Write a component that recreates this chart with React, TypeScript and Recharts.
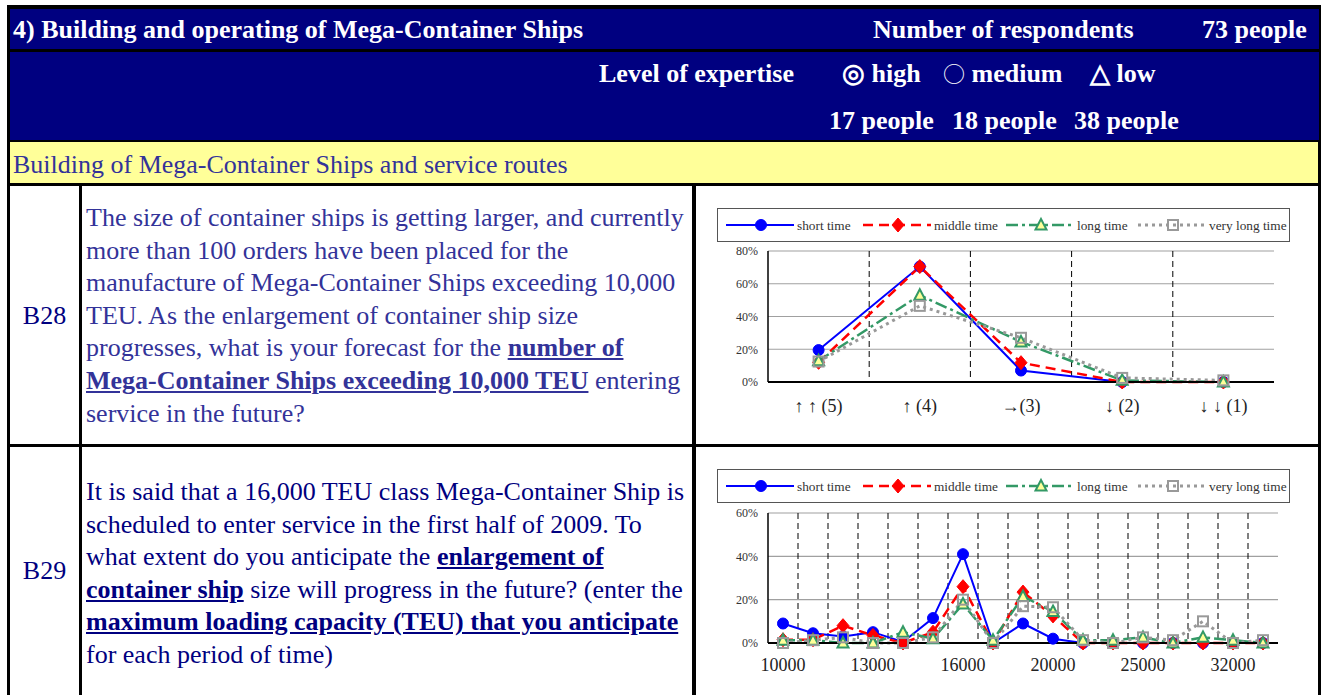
import { CartesianGrid, Line, LineChart, XAxis, YAxis } from 'recharts';

// B28: forecast for number of Mega-Container Ships (share of respondents)
const trendCategories = ['↑ ↑ (5)', '↑ (4)', '→(3)', '↓ (2)', '↓ ↓ (1)'];
const trendShort = [0.195, 0.705, 0.07, 0, 0];
const trendMiddle = [0.12, 0.705, 0.118, 0, 0];
const trendLong = [0.13, 0.53, 0.245, 0.01, 0];
const trendVeryLong = [0.125, 0.465, 0.27, 0.025, 0.01];
const trendTicks = [0, 0.2, 0.4, 0.6, 0.8];

// B29: anticipated maximum loading capacity (TEU)
const sizeCategories = [
  '10000', '11000', '12000', '13000', '14000', '15000', '16000', '17000', '18000',
  '20000', '22000', '23000', '25000', '28000', '30000', '32000', '35000',
];
const sizeShort = [0.09, 0.045, 0.03, 0.05, 0.005, 0.115, 0.41, 0, 0.09, 0.02, 0, 0, 0, 0, 0, 0, 0];
const sizeMiddle = [0.015, 0.015, 0.08, 0.035, 0, 0.05, 0.26, 0, 0.235, 0.125, 0, 0, 0, 0, 0, 0, 0];
const sizeLong = [0.013, 0.013, 0, 0, 0.05, 0.02, 0.18, 0.013, 0.215, 0.145, 0.013, 0.013, 0.026, 0, 0.026, 0.013, 0];
const sizeVeryLong = [0, 0.013, 0.026, 0, 0, 0.026, 0.2, 0, 0.17, 0.165, 0.013, 0, 0.026, 0.013, 0.1, 0, 0.013];
const sizeTicks = [0, 0.2, 0.4, 0.6];

const seriesStyles = [
  { key: 'short', name: 'short time', stroke: '#0000ff', dash: undefined, width: 2, marker: 'circle' },
  { key: 'middle', name: 'middle time', stroke: '#ff0000', dash: '10 6', width: 2.5, marker: 'diamond' },
  { key: 'long', name: 'long time', stroke: '#339966', dash: '12 4 3 4', width: 2.5, marker: 'triangle' },
  { key: 'veryLong', name: 'very long time', stroke: '#999999', dash: '3 4', width: 3, marker: 'square' },
];

const trendRows = trendCategories.map((c, i) => ({
  name: c,
  short: trendShort[i],
  middle: trendMiddle[i],
  long: trendLong[i],
  veryLong: trendVeryLong[i],
}));

const sizeRows = sizeCategories.map((c, i) => ({
  name: c,
  short: sizeShort[i],
  middle: sizeMiddle[i],
  long: sizeLong[i],
  veryLong: sizeVeryLong[i],
}));

const SERIF = '"Liberation Serif", "Times New Roman", serif';
const NAVY = '#000080';
const TEXT_BLUE = '#333399';

function Marker({ type, cx, cy }: { type: string; cx: number; cy: number }) {
  if (cx == null || cy == null) return null;
  if (type === 'circle') return <circle cx={cx} cy={cy} r={5.5} fill="#0000ff" stroke="#0000ff" />;
  if (type === 'diamond')
    return (
      <polygon
        points={`${cx},${cy - 7} ${cx + 6},${cy} ${cx},${cy + 7} ${cx - 6},${cy}`}
        fill="#ff0000"
        stroke="#ff0000"
      />
    );
  if (type === 'triangle')
    return (
      <polygon
        points={`${cx},${cy - 6} ${cx + 5.5},${cy + 4.5} ${cx - 5.5},${cy + 4.5}`}
        fill="#ffff99"
        stroke="#339966"
        strokeWidth={2}
      />
    );
  return <rect x={cx - 5} y={cy - 5} width={10} height={10} fill="none" stroke="#999999" strokeWidth={2} />;
}

function LegendBox({ top }: { top: number }) {
  const starts = [8, 145, 288, 420];
  return (
    <div
      style={{
        position: 'absolute',
        left: 717,
        top,
        width: 573,
        height: 34,
        border: '1px solid #555',
        boxSizing: 'border-box',
        background: '#fff',
      }}
    >
      <svg width={571} height={32}>
        {seriesStyles.map((s, i) => {
          const x = starts[i];
          return (
            <g key={s.key}>
              <line x1={x} x2={x + 68} y1={16} y2={16} stroke={s.stroke} strokeWidth={s.width} strokeDasharray={s.dash} />
              <Marker type={s.marker} cx={x + 35} cy={16} />
              <text x={x + 71} y={20.5} fontSize={13.3} fontFamily={SERIF} fill="#333">
                {s.name}
              </text>
            </g>
          );
        })}
      </svg>
    </div>
  );
}

type ChartProps = {
  rows: any[];
  left: number;
  top: number;
  width: number;
  height: number;
  margin: { top: number; right: number; bottom: number; left: number };
  yMax: number;
  yTicks: number[];
  interval: number;
  xTickMargin: number;
  xFont: number;
};

function SurveyChart({ rows, left, top, width, height, margin, yMax, yTicks, interval, xTickMargin, xFont }: ChartProps) {
  const n = rows.length;
  return (
    <div style={{ position: 'absolute', left, top }}>
      <LineChart width={width} height={height} data={rows} margin={margin}>
        <CartesianGrid vertical={false} stroke="#a0a0a0" strokeWidth={1.2} />
        <CartesianGrid
          horizontal={false}
          stroke="#000"
          strokeDasharray="6 4"
          verticalCoordinatesGenerator={({ offset }: any) =>
            Array.from({ length: n - 1 }, (_, i) => offset.left + ((i + 1) * offset.width) / n)
          }
        />
        <XAxis
          dataKey="name"
          scale="band"
          interval={interval}
          tickSize={0}
          tickMargin={xTickMargin}
          height={30}
          axisLine={{ stroke: '#000', strokeWidth: 2 }}
          tick={{ fontSize: xFont, fontFamily: SERIF, fill: '#222' }}
        />
        <XAxis xAxisId="top" dataKey="name" scale="band" orientation="top" height={0} tick={false} tickLine={false} axisLine={{ stroke: '#000', strokeWidth: 1.5 }} />
        <YAxis
          domain={[0, yMax]}
          ticks={yTicks}
          width={40}
          tickSize={0}
          tickMargin={10}
          tickFormatter={(v: number) => `${Math.round(v * 100)}%`}
          axisLine={{ stroke: '#000', strokeWidth: 1.5 }}
          tick={{ fontSize: 12, fontFamily: SERIF, fill: '#333' }}
        />
        <YAxis yAxisId="right" orientation="right" domain={[0, yMax]} width={0} tick={false} tickLine={false} axisLine={{ stroke: '#000', strokeWidth: 1.5 }} />
        {seriesStyles.map((s) => (
          <Line
            key={s.key}
            type="linear"
            dataKey={s.key}
            name={s.name}
            stroke={s.stroke}
            strokeWidth={s.width}
            strokeDasharray={s.dash}
            isAnimationActive={false}
            activeDot={false}
            dot={(p: any) => <Marker key={`${s.key}-${p.index}`} type={s.marker} cx={p.cx} cy={p.cy} />}
          />
        ))}
      </LineChart>
    </div>
  );
}

const cell = (left: number, top: number, width: number, height: number, bg: string): any => ({
  position: 'absolute',
  left,
  top,
  width,
  height,
  background: bg,
  boxSizing: 'border-box',
});

const bu = { fontWeight: 'bold', textDecoration: 'underline' } as const;
const cjk = { fontFamily: '"Noto Sans CJK JP", sans-serif', fontWeight: 'normal', lineHeight: 0 } as const;

export default function App() {
  const headText = { position: 'absolute', color: '#fff', fontWeight: 'bold', fontSize: 26, fontFamily: SERIF, whiteSpace: 'nowrap', lineHeight: '26px' } as any;
  const body = { position: 'absolute', fontFamily: SERIF, fontSize: 26, lineHeight: '32.6px', whiteSpace: 'nowrap' } as any;
  return (
    <div style={{ position: 'absolute', left: 0, top: 0, width: 1321, height: 695, overflow: 'hidden', background: '#fff', fontFamily: SERIF }}>
      {/* table frame */}
      <div style={cell(7, 5, 1314, 690, '#000')} />
      <div style={cell(10, 9, 1309, 40, NAVY)} />
      <div style={cell(10, 52, 1309, 88, NAVY)} />
      <div style={cell(10, 142, 1308, 41, '#ffff99')} />
      <div style={cell(10, 186, 69, 258, '#fff')} />
      <div style={cell(82, 186, 610, 258, '#fff')} />
      <div style={cell(696, 186, 622, 258, '#fff')} />
      <div style={cell(10, 447, 69, 248, '#fff')} />
      <div style={cell(82, 447, 610, 248, '#fff')} />
      <div style={cell(696, 447, 622, 248, '#fff')} />

      {/* header */}
      <div style={{ ...headText, left: 13, top: 17 }}>4) Building and operating of Mega-Container Ships</div>
      <div style={{ ...headText, left: 873, top: 17 }}>Number of respondents</div>
      <div style={{ ...headText, left: 1202, top: 17 }}>73 people</div>
      <div style={{ ...headText, left: 599, top: 61 }}>Level of expertise</div>
      <div style={{ ...headText, left: 842, top: 61 }}>◎ high</div>
      <div style={{ ...headText, left: 943, top: 61 }}>
        <span style={{ ...cjk, fontSize: 22 }}>○</span> medium
      </div>
      <div style={{ ...headText, left: 1090, top: 61 }}>△ low</div>
      <div style={{ ...headText, left: 829, top: 108 }}>17 people</div>
      <div style={{ ...headText, left: 952, top: 108 }}>18 people</div>
      <div style={{ ...headText, left: 1074, top: 108 }}>38 people</div>
      <div style={{ ...body, left: 13, top: 149, color: TEXT_BLUE }}>Building of Mega-Container Ships and service routes</div>

      {/* B28 */}
      <div style={{ ...body, left: 10, width: 69, top: 300, textAlign: 'center', color: NAVY }}>B28</div>
      <div style={{ ...body, left: 86, top: 202, color: TEXT_BLUE }}>
        The size of container ships is getting larger, and currently
        <br />
        more than 100 orders have been placed for the
        <br />
        manufacture of Mega-Container Ships exceeding 10,000
        <br />
        TEU. As the enlargement of container ship size
        <br />
        progresses, what is your forecast for the <span style={bu}>number of</span>
        <br />
        <span style={bu}>Mega-Container Ships exceeding 10,000 TEU</span> entering
        <br />
        service in the future?
      </div>
      <LegendBox top={208} />
      <SurveyChart
        rows={trendRows}
        left={700}
        top={240}
        width={590}
        height={190}
        margin={{ top: 11, right: 16, bottom: 18, left: 28 }}
        yMax={0.8}
        yTicks={trendTicks}
        interval={0}
        xTickMargin={17}
        xFont={18}
      />

      {/* B29 */}
      <div style={{ ...body, left: 10, width: 69, top: 555, textAlign: 'center', color: NAVY }}>B29</div>
      <div style={{ ...body, left: 86, top: 476, color: NAVY }}>
        It is said that a 16,000 TEU class Mega-Container Ship is
        <br />
        scheduled to enter service in the first half of 2009. To
        <br />
        what extent do you anticipate the <span style={bu}>enlargement of</span>
        <br />
        <span style={bu}>container ship</span> size will progress in the future? (enter the
        <br />
        <span style={bu}>maximum loading capacity (TEU) that you anticipate</span>
        <br />
        for each period of time)
      </div>
      <LegendBox top={469} />
      <SurveyChart
        rows={sizeRows}
        left={700}
        top={503}
        width={590}
        height={192}
        margin={{ top: 10, right: 12, bottom: 22, left: 28 }}
        yMax={0.6}
        yTicks={sizeTicks}
        interval={2}
        xTickMargin={15}
        xFont={18}
      />
    </div>
  );
}
